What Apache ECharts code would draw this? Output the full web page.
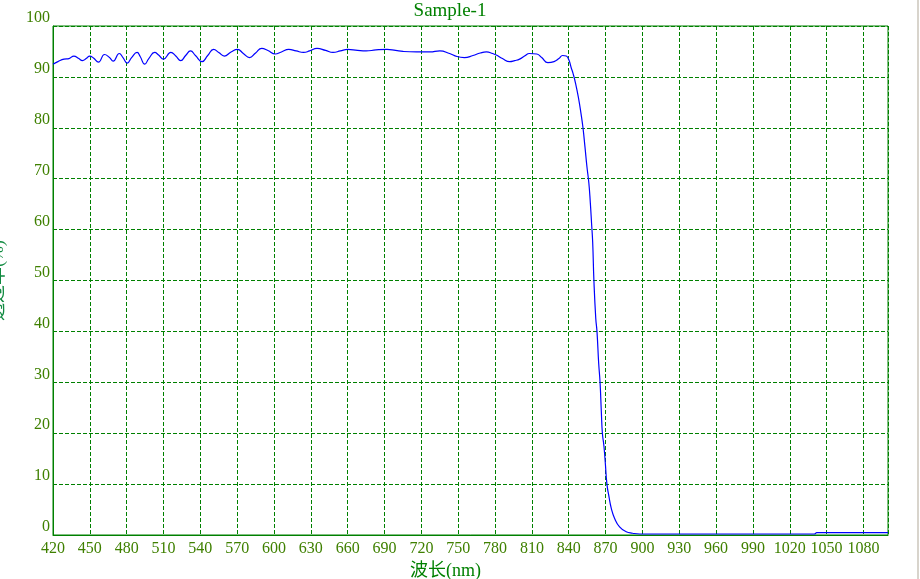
<!DOCTYPE html>
<html>
<head>
<meta charset="utf-8">
<style>
  html, body { margin: 0; padding: 0; background: #ffffff; }
  #chart { width: 920px; height: 579px; }
</style>
<script src="https://cdn.jsdelivr.net/npm/echarts@6/dist/echarts.min.js"></script>
</head>
<body>
<div id="chart"></div>
<script>
// Wavelength (nm)
const wavelength = [
  420, 424, 429, 433, 437, 441, 444, 447, 450, 453, 457, 462, 466, 469, 474, 477, 480.5, 484, 488.5, 491,
  494.7, 498, 502.8, 506, 510, 516, 520, 524, 528, 532, 536, 541.4, 546, 550.8, 555, 559.5, 565, 570.3, 575, 580,
  585, 590, 595, 601, 606, 612, 618, 624, 629, 635, 642, 648, 654, 660, 668, 675, 683, 692, 699, 705,
  716, 727, 735, 743, 749, 755, 762, 768, 773, 778, 781, 786, 792, 796, 800, 804, 808, 814, 818, 823,
  828, 832, 835, 838, 840, 842, 843.5, 845.6, 848, 850, 851.6, 853.2, 854.8, 856.4, 857.6, 858.6, 859.5, 860.5, 862, 863,
  864.4, 865.5, 866.6, 867.4, 868.7, 869.8, 871.1, 872.8, 874.7, 877.3, 881.4, 886.8, 892, 898, 950, 1000, 1040, 1042, 1100
];
// Transmittance (%)
const transmittance = [
  92.5, 93.0, 93.5, 93.6, 94.1, 93.6, 93.2, 93.6, 94.1, 93.7, 92.9, 94.4, 93.8, 93.1, 94.6, 93.8, 92.7, 93.8, 94.8, 94.0,
  92.5, 93.6, 94.8, 94.3, 93.5, 94.8, 94.1, 93.2, 94.2, 95.1, 94.2, 93.0, 94.2, 95.4, 94.8, 94.1, 94.9, 95.4, 94.6, 93.8,
  94.7, 95.6, 95.2, 94.5, 94.9, 95.4, 95.1, 94.8, 95.1, 95.6, 95.2, 94.8, 95.1, 95.4, 95.2, 95.1, 95.3, 95.4, 95.2, 95.0,
  94.9, 94.9, 95.1, 94.6, 94.0, 93.8, 94.2, 94.7, 94.9, 94.6, 94.3, 93.6, 93.0, 93.2, 93.5, 94.1, 94.6, 94.5, 93.8, 92.8,
  93.0, 93.6, 94.2, 94.1, 93.4, 91.8, 90.7, 88.7, 85.8, 82.8, 80.0, 76.3, 72.4, 69.1, 65.2, 61.2, 57.5, 50.0, 42.6, 40.0,
  33.7, 30.0, 23.9, 20.0, 17.4, 14.1, 10.0, 7.5, 5.2, 3.3, 1.6, 0.65, 0.35, 0.2, 0.2, 0.2, 0.2, 0.45, 0.45
];
const chartTitle = 'Sample-1';
const xName = '波长(nm)';
const yName = '透过率(%)';

const seriesData = wavelength.map((w, i) => [w, transmittance[i]]);

const green = '#008000';
const labelColor = '#3f8000';
const serif = "'Liberation Serif', 'Noto Sans CJK SC', serif";

const chart = echarts.init(document.getElementById('chart'), null, { renderer: 'canvas' });
chart.setOption({
  animation: false,
  backgroundColor: '#ffffff',
  title: {
    text: chartTitle,
    left: 445,
    top: -3,
    textAlign: 'center',
    textStyle: { color: green, fontFamily: serif, fontSize: 19, fontWeight: 'normal' }
  },
  grid: {
    left: 53, right: 32, top: 26, bottom: 44,
    containLabel: false,
    outerBoundsMode: 'none',
    show: true,
    borderColor: green,
    borderWidth: 1,
    backgroundColor: 'transparent'
  },
  xAxis: {
    type: 'value',
    min: 420, max: 1100, interval: 30,
    name: xName,
    nameLocation: 'middle',
    nameGap: 25,
    nameTextStyle: { color: green, fontFamily: serif, fontSize: 18, padding: [0, 50, 0, 0] },
    axisLine: { show: true, lineStyle: { color: green, width: 1 } },
    axisTick: { show: false },
    axisLabel: {
      color: labelColor, fontFamily: serif, fontSize: 16, margin: 6, showMaxLabel: false,
      formatter: (v) => String(v)
    },
    splitLine: { show: true, lineStyle: { color: green, width: 1, type: [4, 2] } }
  },
  yAxis: {
    type: 'value',
    min: 0, max: 100, interval: 10,
    name: yName,
    nameLocation: 'middle',
    nameGap: 46,
    nameRotate: 90,
    nameTextStyle: { color: '#108a40', fontFamily: serif, fontSize: 18 },
    axisLine: { show: true, lineStyle: { color: green, width: 1 } },
    axisTick: { show: false },
    axisLabel: {
      color: labelColor, fontFamily: serif, fontSize: 16, margin: 3, verticalAlign: 'bottom',
      formatter: (v) => String(v)
    },
    splitLine: { show: true, lineStyle: { color: green, width: 1, type: [4, 2] } }
  },
  graphic: [{
    type: 'rect',
    shape: { x: 917, y: 0, width: 2, height: 579 },
    style: { fill: '#d8d4cc' },
    silent: true
  }],
  series: [{
    type: 'line',
    data: seriesData,
    showSymbol: false,
    smooth: 0.5,
    lineStyle: { color: '#0000ff', width: 1.2 },
    itemStyle: { color: '#0000ff' }
  }]
});
</script>
</body>
</html>
